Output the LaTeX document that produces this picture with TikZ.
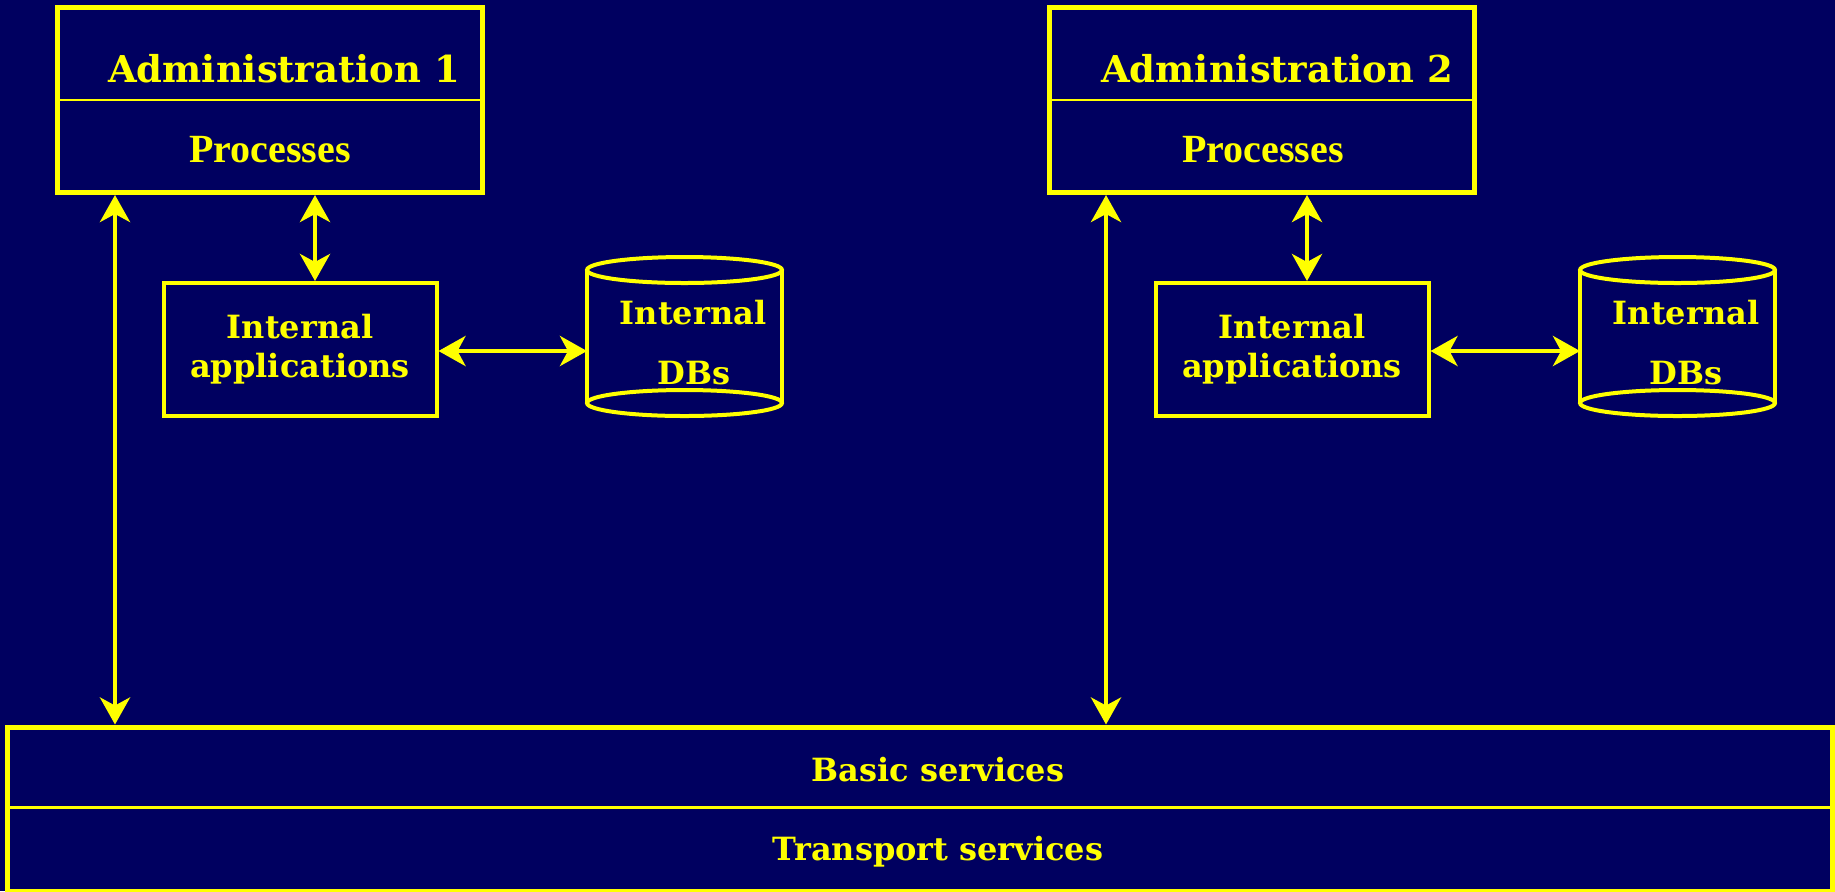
\documentclass[tikz,border=0pt]{standalone}
\usepackage{fontspec}
\setmainfont{Liberation Serif}
\newfontfamily\slab{DejaVu Serif}
\usepackage{tikz}
\usetikzlibrary{arrows.meta, calc, positioning}

\definecolor{navy}{HTML}{000060}
\definecolor{lemon}{HTML}{FFFF00}

\tikzset{
    box/.style={draw=lemon, line width=2.5pt, inner sep=0pt},
    appbox/.style={draw=lemon, line width=2pt, inner sep=0pt, text=lemon, align=center, font=\slab\bfseries\fontsize{16}{19.5}\selectfont, minimum width=136.5pt, minimum height=66.5pt},
    dbbox/.style={inner sep=0pt, outer sep=0pt, minimum width=97.5pt, minimum height=79pt},
    divider/.style={draw=lemon, line width=1.4pt},
    cyl/.style={draw=lemon, line width=2pt},
    title/.style={text=lemon, inner sep=0pt, anchor=base, font=\slab\bfseries\fontsize{18.5}{22}\selectfont},
    proc/.style={text=lemon, inner sep=0pt, anchor=base, font=\bfseries\fontsize{20}{24}\selectfont},
    tag/.style={text=lemon, inner sep=0pt, anchor=base, font=\slab\bfseries\fontsize{16}{19.5}\selectfont},
    tip/.style={Stealth[length=13.5pt, width=15pt, inset=4pt]},
    link/.style={draw=lemon, line width=2.3pt, {Stealth[length=13.5pt, width=15pt, inset=4pt]}-{Stealth[length=13.5pt, width=15pt, inset=4pt]}}
}

\begin{document}
\begin{tikzpicture}[x=0.5pt, y=-0.5pt]
    \useasboundingbox (0,0) rectangle (1835,891);
    \fill[navy] (0,0) rectangle (1835,891);

    % administrations
    \node[box, minimum width=212.5pt, minimum height=92.5pt] (admin1) at (270,100) {};
    \node[box, minimum width=212.5pt, minimum height=92.5pt] (admin2) at (1262,100) {};
    \draw[divider] (admin1.west) -- (admin1.east);
    \draw[divider] (admin2.west) -- (admin2.east);

    \node[title] (adm1) at (284,82) {Administration 1};
    \node[proc] (proc1) at (270,162) {Processes};
    \node[title] (adm2) at (1277,82) {Administration 2};
    \node[proc] (proc2) at (1263,162) {Processes};

    % internal applications
    \node[appbox] (apps1) at (300,349.5) {Internal\\applications};
    \node[appbox] (apps2) at (1292,349.5) {Internal\\applications};

    % internal databases
    \node[dbbox] (db1) at (684.5,336.5) {};
    \node[dbbox] (db2) at (1677.5,336.5) {};

    \draw[cyl] ($(db1.north)+(0,12.5)$) ellipse [x radius=48.75pt, y radius=6.5pt];
    \draw[cyl] ($(db1.south)+(0,-12.5)$) ellipse [x radius=48.75pt, y radius=6.5pt];
    \draw[cyl] ($(db1.north west)+(0,12.5)$) -- ($(db1.south west)+(0,-12.5)$);
    \draw[cyl] ($(db1.north east)+(0,12.5)$) -- ($(db1.south east)+(0,-12.5)$);

    \draw[cyl] ($(db2.north)+(0,12.5)$) ellipse [x radius=48.75pt, y radius=6.5pt];
    \draw[cyl] ($(db2.south)+(0,-12.5)$) ellipse [x radius=48.75pt, y radius=6.5pt];
    \draw[cyl] ($(db2.north west)+(0,12.5)$) -- ($(db2.south west)+(0,-12.5)$);
    \draw[cyl] ($(db2.north east)+(0,12.5)$) -- ($(db2.south east)+(0,-12.5)$);

    \node[tag] (dbup1) at (693,324) {Internal};
    \node[tag] (dblow1) at (694,384) {DBs};
    \node[tag] (dbup2) at (1686,324) {Internal};
    \node[tag] (dblow2) at (1686,384) {DBs};

    % services
    \node[box, minimum width=912.5pt, minimum height=82.25pt] (bus) at (920,809.25) {};
    \draw[divider] ($(bus.west)+(0,-2)$) -- ($(bus.east)+(0,-2)$);
    \node[tag] (basic) at (938,781) {Basic services};
    \node[tag] (transport) at (938,860) {Transport services};

    % links
    \coordinate (tap1) at ($(apps1.north)+(15,0)$);
    \coordinate (tap2) at ($(apps2.north)+(15,0)$);
    \coordinate (side1) at ($(apps1.east)+(0,1.5)$);
    \coordinate (side2) at ($(apps2.east)+(0,1.5)$);
    \coordinate (down1) at ($(admin1.south west)+(60,0)$);
    \coordinate (down2) at ($(admin2.south west)+(59,0)$);

    \draw[link] (tap1 |- admin1.south) -- (tap1);
    \draw[link] (tap2 |- admin2.south) -- (tap2);
    \draw[link] (side1) -- (side1 -| db1.west);
    \draw[link] (side2) -- (side2 -| db2.west);
    \draw[link] (down1) -- (down1 |- bus.north);
    \draw[link] (down2) -- (down2 |- bus.north);
\end{tikzpicture}
\end{document}
